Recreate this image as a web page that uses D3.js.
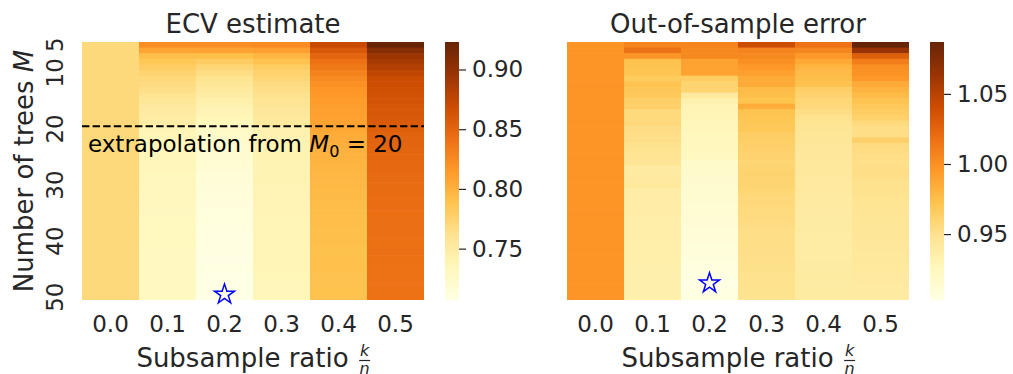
<!DOCTYPE html>
<html>
<head>
<meta charset="utf-8">
<script src="https://cdn.jsdelivr.net/npm/d3@7"></script>
<style>
    body { margin: 0; background: #fff; }
    text { font-family: "DejaVu Sans", sans-serif; fill: #262626; }
</style>
</head>
<body>
<svg id="chart" width="1013" height="374"></svg>
<script>
// categories
const ratios = ["0.0", "0.1", "0.2", "0.3", "0.4", "0.5"];
const trees = [5, 6, 7, 8, 9, 10, 11, 12, 13, 14, 15, 16, 17, 18, 19, 20, 21, 22, 23, 24, 25, 26, 27, 28, 29,
    30, 31, 32, 33, 34, 35, 36, 37, 38, 39, 40, 41, 42, 43, 44, 45, 46, 47, 48, 49, 50];
const yTickLabels = [5, 10, 20, 30, 40, 50];
const ecvTicks = [0.75, 0.80, 0.85, 0.90];
const errTicks = [0.95, 1.00, 1.05];

// ECV estimate, one array per subsample ratio (rows M = 5..50)
const ecv00 = [0.770, 0.770, 0.770, 0.770, 0.770, 0.770, 0.770, 0.770, 0.770, 0.770,
    0.770, 0.770, 0.770, 0.770, 0.770, 0.770, 0.770, 0.770, 0.770, 0.770,
    0.770, 0.770, 0.770, 0.770, 0.770, 0.770, 0.770, 0.770, 0.770, 0.770,
    0.770, 0.770, 0.770, 0.770, 0.770, 0.770, 0.770, 0.770, 0.770, 0.770,
    0.770, 0.770, 0.770, 0.770, 0.770, 0.770];
const ecv01 = [0.822, 0.808, 0.792, 0.785, 0.779, 0.775, 0.771, 0.768, 0.765, 0.761,
    0.757, 0.753, 0.751, 0.749, 0.747, 0.738, 0.737, 0.737, 0.736, 0.736,
    0.735, 0.735, 0.735, 0.734, 0.734, 0.734, 0.733, 0.733, 0.733, 0.733,
    0.733, 0.732, 0.732, 0.732, 0.732, 0.732, 0.732, 0.731, 0.731, 0.731,
    0.731, 0.731, 0.731, 0.731, 0.731, 0.731];
const ecv02 = [0.822, 0.809, 0.791, 0.781, 0.772, 0.766, 0.761, 0.757, 0.753, 0.749,
    0.744, 0.741, 0.738, 0.736, 0.734, 0.727, 0.725, 0.724, 0.722, 0.721,
    0.720, 0.719, 0.718, 0.717, 0.716, 0.715, 0.715, 0.714, 0.713, 0.713,
    0.712, 0.712, 0.711, 0.711, 0.710, 0.710, 0.710, 0.709, 0.709, 0.709,
    0.708, 0.708, 0.708, 0.708, 0.708, 0.707];
const ecv03 = [0.824, 0.811, 0.797, 0.788, 0.780, 0.775, 0.772, 0.768, 0.765, 0.762,
    0.759, 0.757, 0.755, 0.753, 0.752, 0.742, 0.741, 0.741, 0.740, 0.740,
    0.740, 0.739, 0.739, 0.739, 0.739, 0.738, 0.738, 0.738, 0.738, 0.738,
    0.738, 0.737, 0.737, 0.737, 0.737, 0.737, 0.737, 0.737, 0.737, 0.737,
    0.737, 0.736, 0.736, 0.736, 0.736, 0.736];
const ecv04 = [0.871, 0.860, 0.850, 0.841, 0.837, 0.830, 0.825, 0.820, 0.817, 0.815,
    0.813, 0.812, 0.811, 0.810, 0.809, 0.806, 0.804, 0.803, 0.801, 0.800,
    0.799, 0.798, 0.797, 0.796, 0.796, 0.795, 0.794, 0.794, 0.793, 0.793,
    0.792, 0.792, 0.792, 0.791, 0.791, 0.791, 0.790, 0.790, 0.790, 0.790,
    0.790, 0.789, 0.789, 0.789, 0.789, 0.789];
const ecv05 = [0.923, 0.906, 0.895, 0.888, 0.882, 0.876, 0.870, 0.868, 0.866, 0.865,
    0.863, 0.861, 0.860, 0.859, 0.858, 0.854, 0.852, 0.851, 0.850, 0.849,
    0.848, 0.847, 0.847, 0.846, 0.846, 0.845, 0.845, 0.844, 0.844, 0.844,
    0.843, 0.843, 0.843, 0.843, 0.842, 0.842, 0.842, 0.842, 0.842, 0.842,
    0.841, 0.841, 0.841, 0.841, 0.841, 0.841];

// Out-of-sample error, one array per subsample ratio (rows M = 5..50)
const err00 = [0.998, 0.998, 0.998, 0.998, 0.998, 0.998, 0.998, 0.998, 0.998, 0.998,
    0.998, 0.998, 0.998, 0.998, 0.998, 0.998, 0.998, 0.998, 0.998, 0.998,
    0.998, 0.998, 0.998, 0.998, 0.998, 0.998, 0.998, 0.998, 0.998, 0.998,
    0.998, 0.998, 0.998, 0.998, 0.998, 0.998, 0.998, 0.998, 0.998, 0.998,
    0.998, 0.998, 0.998, 0.998, 0.998, 0.998];
const err01 = [1.006, 1.017, 0.997, 0.973, 0.972, 0.971, 0.967, 0.972, 0.969, 0.968,
    0.964, 0.963, 0.956, 0.956, 0.957, 0.954, 0.952, 0.952, 0.950, 0.949,
    0.948, 0.947, 0.941, 0.941, 0.942, 0.943, 0.938, 0.938, 0.937, 0.937,
    0.937, 0.936, 0.936, 0.936, 0.936, 0.935, 0.935, 0.935, 0.935, 0.935,
    0.934, 0.934, 0.934, 0.934, 0.934, 0.934];
const err02 = [1.006, 1.004, 1.004, 0.990, 0.990, 0.990, 0.966, 0.960, 0.960, 0.942,
    0.934, 0.930, 0.929, 0.928, 0.927, 0.927, 0.926, 0.926, 0.925, 0.925,
    0.924, 0.918, 0.917, 0.916, 0.916, 0.915, 0.915, 0.914, 0.914, 0.913,
    0.913, 0.912, 0.912, 0.911, 0.911, 0.910, 0.909, 0.909, 0.908, 0.907,
    0.906, 0.905, 0.904, 0.903, 0.904, 0.905];
const err03 = [1.041, 1.007, 1.004, 1.000, 0.995, 0.991, 0.986, 0.986, 0.977, 0.975,
    0.972, 0.985, 0.972, 0.971, 0.969, 0.969, 0.965, 0.964, 0.963, 0.962,
    0.961, 0.959, 0.960, 0.961, 0.960, 0.960, 0.959, 0.957, 0.957, 0.956,
    0.955, 0.955, 0.954, 0.953, 0.953, 0.953, 0.952, 0.952, 0.951, 0.951,
    0.951, 0.950, 0.950, 0.950, 0.950, 0.949];
const err04 = [1.017, 1.005, 0.995, 0.987, 0.980, 0.977, 0.975, 0.973, 0.964, 0.961,
    0.958, 0.957, 0.953, 0.950, 0.948, 0.947, 0.945, 0.945, 0.944, 0.944,
    0.944, 0.943, 0.943, 0.943, 0.942, 0.942, 0.942, 0.941, 0.941, 0.941,
    0.940, 0.940, 0.940, 0.940, 0.939, 0.939, 0.939, 0.939, 0.939, 0.940,
    0.940, 0.940, 0.940, 0.940, 0.940, 0.940];
const err05 = [1.087, 1.065, 1.028, 1.010, 1.000, 0.999, 0.995, 0.986, 0.981, 0.977,
    0.972, 0.968, 0.965, 0.962, 0.956, 0.953, 0.952, 0.963, 0.955, 0.954,
    0.952, 0.951, 0.953, 0.952, 0.951, 0.950, 0.950, 0.949, 0.948, 0.947,
    0.947, 0.946, 0.946, 0.945, 0.945, 0.944, 0.944, 0.943, 0.943, 0.943,
    0.942, 0.942, 0.942, 0.941, 0.941, 0.941];

// matplotlib YlOrBr anchor colours (linear segments)
const ylOrBr = ["#ffffe5", "#fff7bc", "#fee391", "#fec44f", "#fe9929",
    "#ec7014", "#cc4c02", "#993404", "#662506"];

const svg = d3.select("#chart");
const mapTop = 42, mapBottom = 300, mapWidth = 342;

function drawPanel(opts) {
    let columns = opts.columns;
    let allValues = columns.flat();
    let vmin = d3.min(allValues), vmax = d3.max(allValues);

    let color = d3.scaleLinear()
        .domain(ylOrBr.map((c, i) => vmin + i / (ylOrBr.length - 1) * (vmax - vmin)))
        .range(ylOrBr)
        .interpolate(d3.interpolateRgb);

    let x = d3.scaleBand().domain(ratios).range([opts.left, opts.left + mapWidth]);
    let y = d3.scaleBand().domain(trees).range([mapTop, mapBottom]);

    let g = svg.append("g");

    // heatmap cells
    ratios.forEach((r, i) => {
        g.append("g").selectAll("rect")
            .data(columns[i])
            .enter()
            .append("rect")
            .attr("x", x(r))
            .attr("y", (d, j) => y(trees[j]))
            .attr("width", x.bandwidth() + (i < ratios.length - 1 ? 0.5 : 0))
            .attr("height", (d, j) => y.bandwidth() + (j < trees.length - 1 ? 0.6 : 0))
            .attr("fill", d => color(d));
    });

    // title
    g.append("text")
        .attr("x", opts.left + mapWidth / 2)
        .attr("y", 33)
        .attr("text-anchor", "middle")
        .attr("font-size", "26px")
        .text(opts.title);

    // x axis
    let xAxisGroup = g.append("g")
        .attr("transform", `translate(0,${mapBottom})`)
        .call(d3.axisBottom(x).tickSize(0).tickPadding(16));
    xAxisGroup.select(".domain").remove();
    xAxisGroup.selectAll("text")
        .attr("font-size", "23px")
        .attr("font-family", "DejaVu Sans")
        .style("fill", "#262626");

    // x axis label with fraction k/n
    let center = opts.left + mapWidth / 2;
    let label = g.append("text")
        .attr("y", 367)
        .attr("font-size", "26px")
        .text("Subsample ratio");
    let labelW = label.node().getComputedTextLength();
    let fracGap = 16;
    let startX = center - (labelW + fracGap + 5) / 2;
    label.attr("x", startX);
    let fx = startX + labelW + fracGap;
    g.append("text")
        .attr("x", fx).attr("y", 356)
        .attr("text-anchor", "middle")
        .attr("font-size", "16px")
        .attr("font-style", "italic")
        .text("k");
    g.append("line")
        .attr("x1", fx - 5.5).attr("x2", fx + 5.5)
        .attr("y1", 360.5).attr("y2", 360.5)
        .attr("stroke", "#262626")
        .attr("stroke-width", 1.2);
    g.append("text")
        .attr("x", fx).attr("y", 374)
        .attr("text-anchor", "middle")
        .attr("font-size", "16px")
        .attr("font-style", "italic")
        .text("n");

    // y axis (left panel only)
    if (opts.showY) {
        let yAxisGroup = g.append("g")
            .attr("transform", `translate(${opts.left},0)`)
            .call(d3.axisLeft(y).tickValues(yTickLabels).tickSize(0));
        yAxisGroup.select(".domain").remove();
        yAxisGroup.selectAll("text")
            .attr("x", 0)
            .attr("dy", 0)
            .attr("text-anchor", "middle")
            .attr("transform", "translate(-19,0) rotate(-90)")
            .attr("font-size", "23px")
            .attr("font-family", "DejaVu Sans")
            .style("fill", "#262626");

        let yLabel = g.append("text")
            .attr("transform", `translate(33,${(mapTop + mapBottom) / 2}) rotate(-90)`)
            .attr("text-anchor", "middle")
            .attr("font-size", "26px");
        yLabel.append("tspan").text("Number of trees ");
        yLabel.append("tspan").attr("font-style", "italic").text("M");
    }

    // dashed extrapolation line and annotation
    if (opts.extrapolateFrom) {
        let ly = y(opts.extrapolateFrom);
        g.append("line")
            .attr("x1", opts.left).attr("x2", opts.left + mapWidth)
            .attr("y1", ly).attr("y2", ly)
            .attr("stroke", "#000")
            .attr("stroke-width", 2)
            .attr("stroke-dasharray", "7.4 3.2");

        let note = g.append("text")
            .attr("x", opts.left + 6)
            .attr("y", 152)
            .attr("font-size", "23px")
            .style("fill", "#000");
        note.append("tspan").text("extrapolation from ");
        note.append("tspan").attr("font-style", "italic").text("M");
        note.append("tspan").attr("font-size", "16px").attr("dy", 5).text("0");
        note.append("tspan").attr("dy", -5).text(" = 20");
    }

    // star at the minimum (placed on the row's top edge, like the original)
    let best = {v: Infinity, i: 0, j: 0};
    columns.forEach((col, i) => col.forEach((v, j) => {
        if (v < best.v) best = {v: v, i: i, j: j};
    }));
    let sx = x(ratios[best.i]) + x.bandwidth() / 2;
    let sy = y(trees[best.j]);
    let rOut = 10.5, rIn = rOut * 0.382;
    let pts = d3.range(10).map(k => {
        let a = -Math.PI / 2 + k * Math.PI / 5;
        let rr = k % 2 === 0 ? rOut : rIn;
        return [sx + rr * Math.cos(a), sy + rr * Math.sin(a)];
    });
    g.append("path")
        .attr("d", "M" + pts.map(p => p.join(",")).join("L") + "Z")
        .attr("fill", "none")
        .attr("stroke", "#0000ff")
        .attr("stroke-width", 1.5);

    // colorbar
    let cbX = opts.left + mapWidth + 21, cbW = 14;
    let cbY = d3.scaleLinear().domain([vmin, vmax]).range([mapBottom, mapTop]);
    let steps = d3.range(0, mapBottom - mapTop);
    g.append("g").selectAll("rect")
        .data(steps)
        .enter()
        .append("rect")
        .attr("x", cbX)
        .attr("y", s => mapTop + s)
        .attr("width", cbW)
        .attr("height", 1.2)
        .attr("fill", s => color(cbY.invert(mapTop + s + 0.5)));

    let cbAxis = g.append("g")
        .attr("transform", `translate(${cbX + cbW},0)`)
        .call(d3.axisRight(cbY).tickValues(opts.cbTicks).tickFormat(d3.format(".2f"))
            .tickSize(7).tickPadding(6));
    cbAxis.select(".domain").remove();
    cbAxis.selectAll("line").attr("stroke", "#262626").attr("stroke-width", 1.2);
    cbAxis.selectAll("text")
        .attr("font-size", "23px")
        .attr("font-family", "DejaVu Sans")
        .style("fill", "#262626");
}

drawPanel({
    left: 82,
    title: "ECV estimate",
    columns: [ecv00, ecv01, ecv02, ecv03, ecv04, ecv05],
    showY: true,
    extrapolateFrom: 20,
    cbTicks: ecvTicks
});

drawPanel({
    left: 567,
    title: "Out-of-sample error",
    columns: [err00, err01, err02, err03, err04, err05],
    showY: false,
    extrapolateFrom: null,
    cbTicks: errTicks
});
</script>
</body>
</html>
